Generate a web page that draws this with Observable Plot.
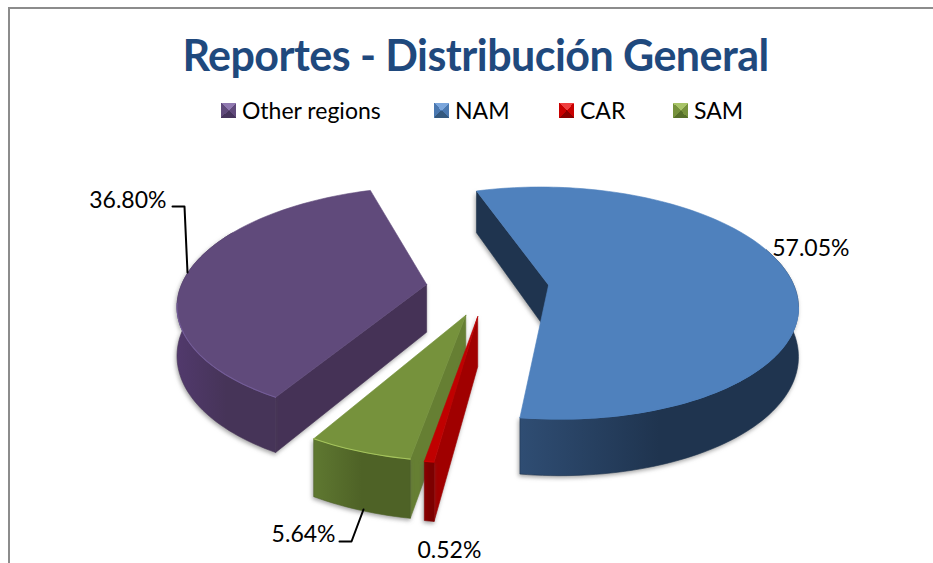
<!DOCTYPE html>
<html><head><meta charset="utf-8">
<script src="https://cdn.jsdelivr.net/npm/d3@7"></script>
<script src="https://cdn.jsdelivr.net/npm/@observablehq/plot@0.6"></script>
<style>
html,body{margin:0;padding:0;background:#fff;overflow:hidden}
#frame{position:absolute;left:8px;top:7px;width:925px;height:556px;border-top:2px solid #8c8c8c;border-left:2px solid #8c8c8c;box-sizing:border-box}
#title{position:absolute;left:0;width:951px;top:27px;text-align:center;font:700 43px Lato,sans-serif;letter-spacing:-0.55px;color:#1f497d;line-height:56px}
.lg{position:absolute;top:96px;font:23px Lato,sans-serif;color:#000;line-height:28px;white-space:nowrap}
.sw{position:absolute;top:103px;width:15px;height:15px;box-sizing:border-box}
#chart{position:absolute;left:0;top:130px}
</style></head><body>
<div id="frame"></div><div id="title"></div><div id="legend"></div><div id="chart"></div>
<script>
// ---- data
const titleText = "Reportes - Distribución General";
const legendOrder = ["Other regions", "NAM", "CAR", "SAM"];
const legendShares = [36.80, 57.05, 0.52, 5.64];
const pieOrder = ["NAM", "CAR", "SAM", "Other regions"];  // clockwise from the first angle
const shareOf = new Map(legendOrder.map((c, i) => [c, legendShares[i]]));

// ---- style and layout, separate from the data
const colours = {
  "NAM":           {top:"#4f81bd", radial:"#1f344f", wall:["#2f4d73","#1f344f","#1f344f"], rim:"#4f81bd", sw:["#7ba6dc","#4a78b0","#34597f"]},
  "CAR":           {top:"#c00000", radial:"#a00000", wall:["#8a0000","#7c0000","#7c0000"], rim:"#d00000", sw:["#f04040","#c80000","#8a0000"]},
  "SAM":           {top:"#76923c", radial:"#667f33", wall:["#5f7831","#4e6226","#4e6226"], rim:"#a5c45c", sw:["#a8c468","#76923c","#56702a"]},
  "Other regions": {top:"#604a7b", radial:"#453256", wall:["#51396c","#463458","#463458"], rim:"#735c98", sw:["#9079b0","#604a7b","#46345c"]}
};
const legendSwatchX = [221, 434, 559, 673];
const legendTextX = [242, 455, 580, 694];
const labelAt = {"Other regions":[166,200,"end"], "NAM":[849,248,"end"], "CAR":[417,550,"start"], "SAM":[335,534,"end"]};
const leaders = {"Other regions":[[172,206],[184,206],[187,272]], "SAM":[[339,541],[351,541],[363,509]]};

// pie geometry: a tilted disc seen in perspective
const firstAngle = -17.5, explode = 0.25, Rx = 246, Ry = 114, persp = 0.155, vx = 487, vy = 287, depth = 48;
function project(X, V, drop) {
  const w = 1 + persp * V;
  return {x: vx + (X - vx) / w, y: vy - Ry * V / w + (drop ? depth / w : 0)};
}
const rad = d => d * Math.PI / 180;
let a0 = firstAngle;
const slices = pieOrder.map(name => {
  const sweep = shareOf.get(name) / 100 * 360, s = {name, a0, a1: a0 + sweep};
  a0 += sweep;
  const mid = rad((s.a0 + s.a1) / 2);
  s.ax = vx + explode * Rx * Math.sin(mid);
  s.av = explode * Math.cos(mid);
  return s;
});
const onRim = (s, deg) => [s.ax + Rx * Math.sin(rad(deg)), s.av + Math.cos(rad(deg))];
const arcAngles = (a, b) => { const n = Math.max(2, Math.ceil((b - a) / 1.5)); return d3.range(n + 1).map(i => a + (b - a) * i / n); };

function topFace(s) {
  const pts = [project(s.ax, s.av)];
  for (const d of arcAngles(s.a0, s.a1)) pts.push(project(...onRim(s, d)));
  pts.push(pts[0]);
  return pts;
}
function radialWall(s) {
  const r = onRim(s, s.a0);
  return [project(s.ax, s.av), project(...r), project(...r, true), project(s.ax, s.av, true), project(s.ax, s.av)];
}
function outerWall(s) {
  const ds = arcAngles(s.a0, s.a1).filter(d => { const m = ((d % 360) + 360) % 360; return m > 70 && m < 300; });
  const up = ds.map(d => project(...onRim(s, d)));
  const down = ds.map(d => project(...onRim(s, d), true)).reverse();
  return [...up, ...down, up[0]];
}
function rim(s) {
  const ds = arcAngles(s.a0, s.a1).filter(d => { const m = ((d % 360) + 360) % 360; return m > 100 && m < 262; });
  return ds.map(d => project(...onRim(s, d)));
}

const gid = n => "w" + n.replace(/\W/g, "");
function defsMark() {
  const ns = "http://www.w3.org/2000/svg";
  const defs = document.createElementNS(ns, "defs");
  for (const s of slices) {
    const pts = outerWall(s);
    const lo = d3.min(pts, p => p.x), hi = d3.max(pts, p => p.x);
    const g = document.createElementNS(ns, "linearGradient");
    g.setAttribute("id", gid(s.name));
    g.setAttribute("gradientUnits", "userSpaceOnUse");
    g.setAttribute("x1", lo); g.setAttribute("x2", hi); g.setAttribute("y1", 0); g.setAttribute("y2", 0);
    colours[s.name].wall.forEach((c, i) => {
      const st = document.createElementNS(ns, "stop");
      st.setAttribute("offset", [0, .5, 1][i]); st.setAttribute("stop-color", c);
      g.appendChild(st);
    });
    defs.appendChild(g);
  }
  return defs;
}
const shadow = (i, sc, v, d, c, next) => {
  const g = next(i, sc, v, d, c);
  g.style.filter = "drop-shadow(-1px 2px 2px rgba(90,90,90,.55))";
  return g;
};
const poly = (pts, col, extra = {}) => Plot.line(pts, {x: "x", y: "y", fill: col, stroke: col, strokeWidth: 0.6, curve: "linear", ...extra});

const drawOrder = ["Other regions", "NAM", "SAM", "CAR"];
const bySlice = new Map(slices.map(s => [s.name, s]));
const pieMarks = drawOrder.flatMap(n => {
  const s = bySlice.get(n), c = colours[n];
  return [
    poly(radialWall(s), c.radial, {render: shadow}),
    poly(outerWall(s), `url(#${gid(n)})`, {stroke: c.wall[1], render: shadow}),
    poly(topFace(s), c.top),
    Plot.line(rim(s), {x: "x", y: "y", stroke: c.rim, strokeWidth: 1.1})
  ];
});

const labelRows = legendOrder.map(n => ({name: n, text: d3.format(".2f")(shareOf.get(n)) + "%", x: labelAt[n][0], y: labelAt[n][1], anchor: labelAt[n][2]}));
const labelMarks = ["start", "end"].map(anchor => Plot.text(labelRows.filter(d => d.anchor === anchor), {
  x: "x", y: "y", text: "text", textAnchor: anchor, fontSize: 23, fill: "#000", lineAnchor: "middle"
}));
const leaderMarks = Object.values(leaders).map(l => Plot.line(l.map(([x, y]) => ({x, y})), {x: "x", y: "y", stroke: "#000", strokeWidth: 2}));

const plot = Plot.plot({
  width: 933, height: 433, margin: 0,
  x: {domain: [0, 933], range: [0, 933], axis: null},
  y: {domain: [130, 563], range: [0, 433], axis: null},
  style: {background: "transparent", fontFamily: "Lato, sans-serif", overflow: "visible"},
  marks: [defsMark, ...pieMarks, ...leaderMarks, ...labelMarks]
});
document.getElementById("chart").appendChild(plot);
document.getElementById("title").textContent = titleText;

const lg = document.getElementById("legend");
legendOrder.forEach((n, i) => {
  const [a, b, c] = colours[n].sw;
  const sw = document.createElement("div");
  sw.className = "sw"; sw.style.left = legendSwatchX[i] + "px";
  sw.style.background = `conic-gradient(from -45deg, ${a} 0 90deg, ${b} 90deg 180deg, ${c} 180deg 270deg, ${b} 270deg 360deg)`;
  lg.appendChild(sw);
  const t = document.createElement("div");
  t.className = "lg"; t.style.left = legendTextX[i] + "px"; t.textContent = n;
  lg.appendChild(t);
});
</script></body></html>
